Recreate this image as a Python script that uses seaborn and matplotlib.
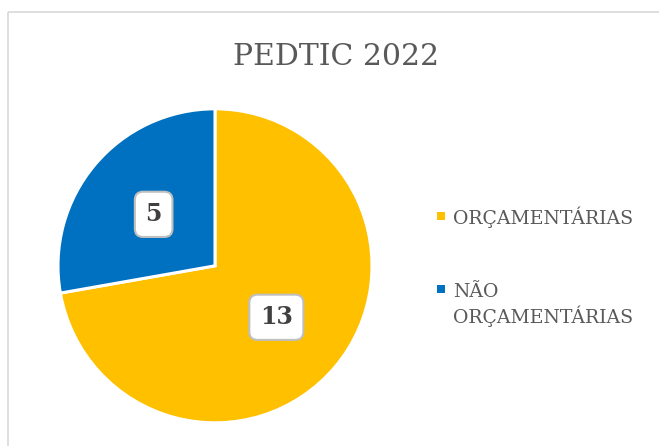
import matplotlib
matplotlib.use('Agg')
import matplotlib.pyplot as plt
import seaborn as sns
from matplotlib.patches import Rectangle

sns.set_theme(style='white')
plt.rcParams['font.family'] = ['DejaVu Serif', 'DejaVu Sans']

title = 'PEDTIC 2022'
categories = ['ORÇAMENTÁRIAS', 'NÃO\nORÇAMENTÁRIAS']
values = [13, 5]
colors = ['#FFC000', '#0070C0']
text_gray = '#595959'

fig = plt.figure(figsize=(6.59, 4.46), dpi=100)

# overlay in pixel coords for frame, title and legend
lax = fig.add_axes([0, 0, 1, 1])
lax.set_xlim(0, 659)
lax.set_ylim(446, 0)
lax.axis('off')
lax.add_patch(Rectangle((8, 12), 700, 500, fill=False, edgecolor='#D9D9D9', lw=1.2))
lax.text(336, 65, title, ha='center', va='baseline', fontsize=21.5, color=text_gray)

ax = fig.add_axes([0.088, 0.052, 0.4765, 0.704])
total = sum(values)
wedges, texts, autotexts = ax.pie(
    values, colors=colors, startangle=90, counterclock=False,
    autopct=lambda p: f'{round(p * total / 100)}', pctdistance=0.51,
    wedgeprops=dict(edgecolor='white', linewidth=2.2),
    textprops=dict(fontsize=17, fontweight='bold', color='#404040'))
for t in autotexts:
    t.set_bbox(dict(boxstyle='round,pad=0.45,rounding_size=0.35', facecolor='white',
                    edgecolor='#BFBFBF', linewidth=1.5))
ax.set_xlim(-1, 1)
ax.set_ylim(-1, 1)

# legend (handle sits beside the first line of each label)
leg_y = [216, 289]
for cat, col, y in zip(categories, colors, leg_y):
    lax.add_patch(Rectangle((437, y - 4), 8, 8, color=col, lw=0))
    for i, line in enumerate(cat.split('\n')):
        lax.text(453, y + 8 + i * 26, line, ha='left', va='baseline', fontsize=13.6,
                 color=text_gray)

fig.savefig('out.png', dpi=100)
